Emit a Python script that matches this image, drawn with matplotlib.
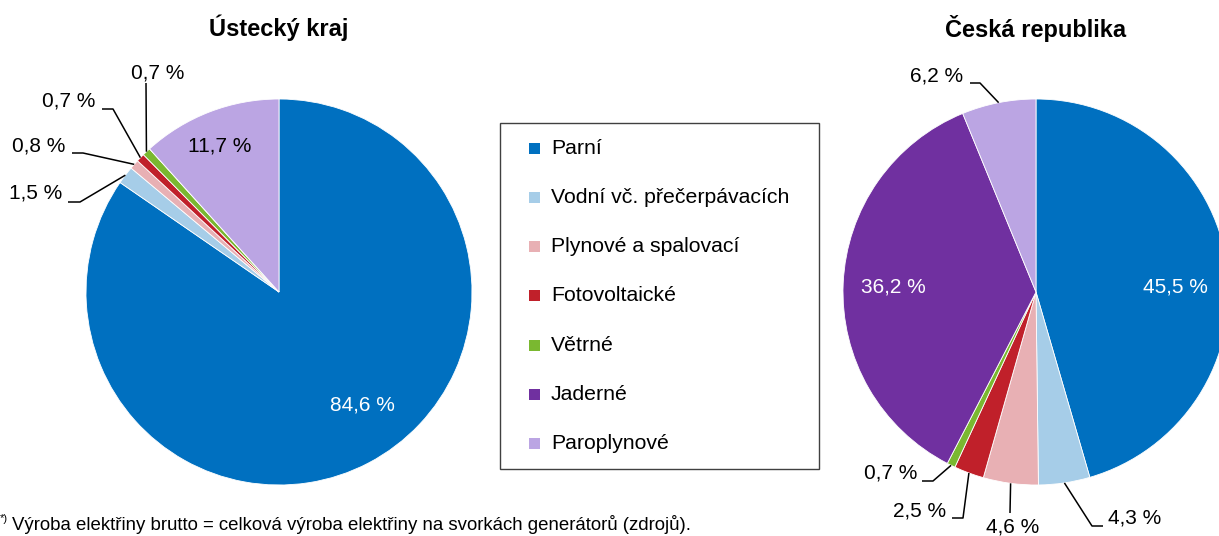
import numpy as np
import matplotlib
matplotlib.use("Agg")
import matplotlib.pyplot as plt
from matplotlib.patches import Rectangle

plt.rcParams['font.family'] = ['Liberation Sans', 'DejaVu Sans']

# --- data -------------------------------------------------------------
categories = ["Parní", "Vodní vč. přečerpávacích", "Plynové a spalovací",
              "Fotovoltaické", "Větrné", "Jaderné", "Paroplynové"]
colors = ["#0070C0", "#A6CDE8", "#E8B0B4", "#C0202A", "#7AB830",
          "#7030A0", "#BBA5E3"]

title_region = "Ústecký kraj"
values_region = [84.6, 1.5, 0.8, 0.7, 0.7, 0.0, 11.7]

title_country = "Česká republika"
values_country = [45.5, 4.3, 4.6, 2.5, 0.7, 36.2, 6.2]

footnote = "Výroba elektřiny brutto = celková výroba elektřiny na svorkách generátorů (zdrojů)."

# --- figure in pixel coordinates ---------------------------------------
W, H = 1219, 536
fig = plt.figure(figsize=(W / 100, H / 100), dpi=100)
ax = fig.add_axes([0, 0, 1, 1])
ax.set_xlim(0, W)
ax.set_ylim(0, H)
ax.axis("off")


def Y(y):
    """Convert a top-down pixel row to axes y."""
    return H - y


R = 193
FS = 15
FS_LEG = 15.3


def fmt(v):
    return f"{v:.1f}".replace(".", ",") + " %"


def draw_pie(values, cx, cy, title, inside, outside):
    center = (cx, Y(cy))
    ax.pie(values, colors=colors, startangle=90, counterclock=False,
           center=center, radius=R, frame=True,
           wedgeprops=dict(edgecolor="white", linewidth=0.6))
    ax.text(cx, Y(28), title, ha="center", va="center",
            fontsize=17, fontweight="bold")
    total = sum(values)
    cum = np.cumsum([0] + list(values))
    mids = [(cum[i] + values[i] / 2) / total for i in range(len(values))]

    # labels placed inside the wedges
    for idx, (tx, ty, col) in inside.items():
        ax.text(tx, Y(ty), fmt(values[idx]), ha="center", va="center",
                fontsize=FS, color=col)

    # labels placed outside with elbow leader lines
    for idx, (tx, ty, path) in outside.items():
        ang = np.deg2rad(90 - mids[idx] * 360)
        ax_pt = (cx + R * np.cos(ang), Y(cy) + R * np.sin(ang))
        xs = [p[0] for p in path] + [ax_pt[0]]
        ys = [Y(p[1]) for p in path] + [ax_pt[1]]
        ax.plot(xs, ys, color="black", lw=1.1, solid_capstyle="butt")
        ax.text(tx, Y(ty), fmt(values[idx]), ha="center", va="center",
                fontsize=FS, color="black")


# Ústecký kraj
draw_pie(values_region, 279, 292, title_region,
         inside={0: (362, 405, "white"), 6: (220, 146, "black")},
         outside={1: (36, 193, [(68, 202), (80, 202)]),
                  2: (39, 146, [(72, 153), (83, 153)]),
                  3: (69, 101, [(102, 109), (113, 109)]),
                  4: (158, 73, [(146, 83)])})

# Česká republika
draw_pie(values_country, 1036, 292, title_country,
         inside={0: (1175, 287, "white"), 5: (893, 287, "white")},
         outside={6: (937, 76, [(970, 83), (980, 83)]),
                  4: (891, 473, [(922, 481), (933, 481)]),
                  3: (920, 511, [(952, 518), (963, 518)]),
                  2: (1013, 527, [(1010, 513)]),
                  1: (1135, 518, [(1103, 526), (1092, 526)])})

ax.set_xlim(0, W)
ax.set_ylim(0, H)
ax.set_aspect("auto")

# legend box
ax.add_patch(Rectangle((500, Y(469)), 319, 346, facecolor="white",
                       edgecolor="#404040", lw=1.0, zorder=5))
for i, (name, col) in enumerate(zip(categories, colors)):
    yy = 148 + i * 49.3
    ax.add_patch(Rectangle((529, Y(yy) - 5.5), 11, 11, facecolor=col,
                           edgecolor="none", zorder=6))
    ax.text(551, Y(yy), name, ha="left", va="center", fontsize=FS_LEG,
            zorder=6)

# footnote
ax.text(0, Y(519), "*)", ha="left", va="center", fontsize=8)
ax.text(12, Y(525), footnote, ha="left", va="center", fontsize=13.4)

fig.savefig("out.png", dpi=100)
